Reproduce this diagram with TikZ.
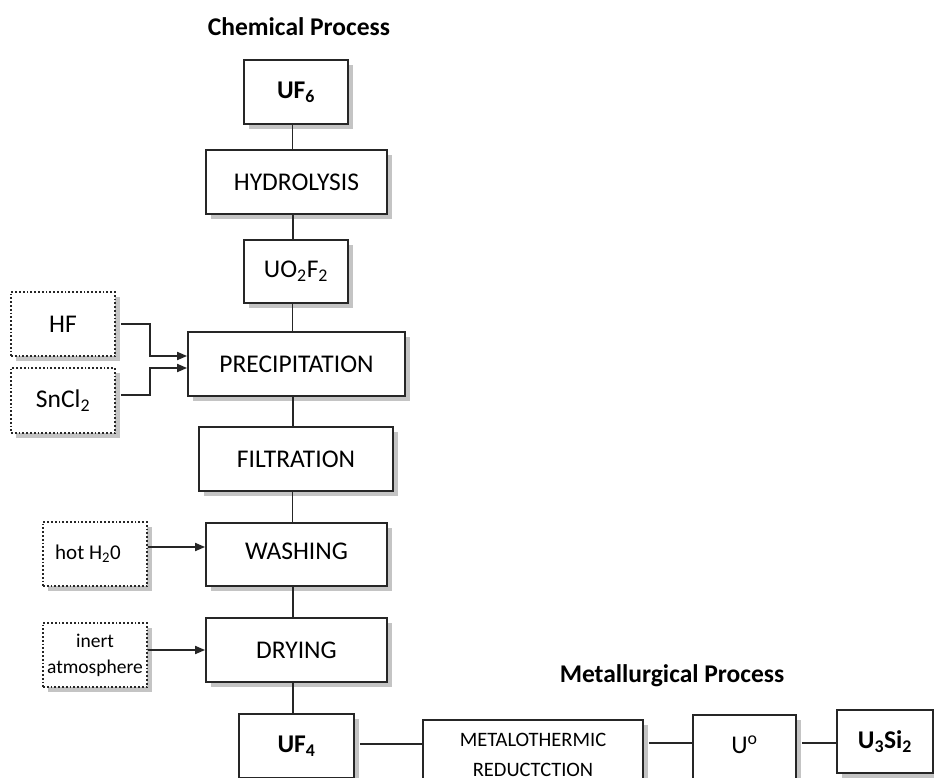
\documentclass[tikz,border=0pt]{standalone}
\usepackage{fontspec}
\setmainfont{Carlito}
\usetikzlibrary{arrows.meta,shadows}
\definecolor{ink}{HTML}{262626}
\definecolor{shade}{HTML}{C4C4C4}
\begin{document}
\begin{tikzpicture}[x=1pt,y=-1pt,
  box/.style={draw=ink, line width=1.8pt, fill=white, inner sep=0pt,
    drop shadow={shadow xshift=5pt, shadow yshift=-5pt, fill=shade, opacity=1},
    font=\fontsize{25.5}{30}\selectfont, text=black},
  feed/.style={box, dotted, line width=1.6pt},
  link/.style={draw=ink, line width=1.8pt},
  arr/.style={link, -{Triangle[length=10pt,width=8pt]}},
  title/.style={font=\fontsize{25.5}{30}\selectfont\bfseries, text=black, inner sep=0pt}]
\useasboundingbox (0,0) rectangle (934,778);
\clip (0,0) rectangle (934,778);
\fill[white] (0,0) rectangle (934,778);

% titles
\node[title] (t1) at (299,27) {Chemical Process};
\node[title] (t2) at (672,676) {Metallurgical Process};

% main column
\node[box, minimum width=104pt, minimum height=64pt, font=\fontsize{25.5}{30}\selectfont\bfseries] (uf6) at (296,92) {UF\textsubscript{6}};
\node[box, minimum width=181pt, minimum height=64pt] (hyd) at (296.5,182) {HYDROLYSIS};
\node[box, minimum width=104pt, minimum height=63pt] (uo) at (296,271.5) {UO\textsubscript{2}F\textsubscript{2}};
\node[box, minimum width=217pt, minimum height=64pt] (prec) at (296.5,364) {PRECIPITATION};
\node[box, minimum width=194pt, minimum height=64pt] (filt) at (296,459) {FILTRATION};
\node[box, minimum width=181pt, minimum height=63pt] (wash) at (296.5,554.5) {\raisebox{7pt}{WASHING}};
\node[box, minimum width=181pt, minimum height=64pt] (dry) at (296.5,650) {DRYING};
\node[box, minimum width=115pt, minimum height=64pt, font=\fontsize{25.5}{30}\selectfont\bfseries] (uf4) at (296.5,746) {\raisebox{4pt}{UF\textsubscript{4}}};

% feeds
\node[feed, minimum width=104pt, minimum height=64pt] (hf) at (63,324) {HF};
\node[feed, minimum width=104pt, minimum height=65pt] (sn) at (63,400.5) {SnCl\textsubscript{2}};
\node[feed, minimum width=104pt, minimum height=64pt, font=\fontsize{21}{24}\selectfont] (hot) at (95,554) {\hspace*{-14pt}hot H\textsubscript{2}0};
\node[feed, minimum width=104pt, minimum height=64pt, font=\fontsize{19.5}{26}\selectfont, align=center] (inert) at (95,655) {\raisebox{5pt}{\parbox{100pt}{\centering inert\\atmosphere}}};

% metallurgical row
\node[box, minimum width=220pt, minimum height=70pt, font=\fontsize{20.5}{30}\selectfont, align=center] (metal) at (533,755) {METALOTHERMIC\\REDUCTCTION};
\node[box, minimum width=103pt, minimum height=64pt] (u0) at (744.5,747) {\raisebox{4pt}{U\textsuperscript{o}}};
\node[box, minimum width=96pt, minimum height=63pt, font=\fontsize{25.5}{30}\selectfont\bfseries] (usi) at (885,741.5) {U\textsubscript{3}Si\textsubscript{2}};

% vertical connectors
\foreach \a/\b in {uf6/hyd, hyd/uo, uo/prec, prec/filt, filt/wash, wash/dry, dry/uf4}
  \draw[link] ([xshift=-3.5pt]\a.south) -- ([xshift=-3.5pt]\a.south |- \b.north);

% feed arrows
\draw[arr] ([xshift=5pt]hf.east) -- ([xshift=34pt]hf.east) |- ([yshift=8pt]prec.west);
\draw[arr] ([xshift=5pt,yshift=5.5pt]sn.east) -- ([xshift=34pt,yshift=5.5pt]sn.east) |- ([yshift=-4pt]prec.west);
\coordinate (wa) at ([yshift=7.5pt]wash.west);
\draw[arr] (hot.east |- wa) -- (wa);
\draw[arr] (inert.east |- dry.west) -- (dry.west);

% bottom row connectors
\coordinate (c1) at ([xshift=5pt,yshift=2pt]uf4.east);
\draw[link] (c1) -- (c1 -| metal.west);
\coordinate (c2) at ([xshift=5pt]metal.east |- 0,743);
\draw[link] (c2) -- (c2 -| u0.west);
\coordinate (c3) at ([xshift=5pt]u0.east |- 0,743);
\draw[link] (c3) -- (c3 -| usi.west);
\end{tikzpicture}
\end{document}
